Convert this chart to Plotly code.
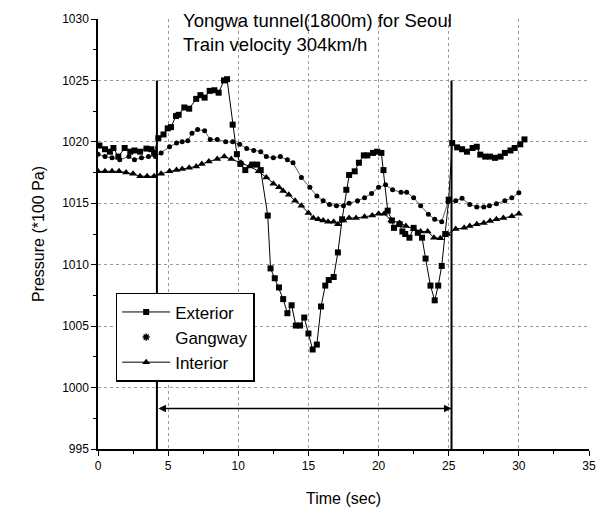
import plotly.graph_objects as go

# ---------------- data ----------------
ext_t = [0.1, 0.5, 0.85, 1.1, 1.45, 1.9, 2.3, 2.6, 3.0, 3.45, 3.8, 4.0, 4.3, 4.67, 4.97, 5.2, 5.56, 5.75,
         6.15, 6.5, 7.0, 7.3, 7.6, 7.96, 8.3, 8.6, 8.98, 9.2, 9.6, 9.9, 10.15, 10.5, 11.0, 11.35, 11.6,
         12.1, 12.3, 12.6, 12.9, 13.2, 13.5, 13.8, 14.1, 14.4, 14.7, 15.0, 15.3, 15.6, 15.9, 16.2, 16.45,
         16.8, 17.1, 17.4, 17.7, 17.9, 18.3, 18.6, 18.95, 19.2, 19.6, 19.9, 20.2, 20.35, 20.65, 20.95,
         21.1, 21.5, 21.7, 21.9, 22.2, 22.5, 22.8, 23.1, 23.35, 23.7, 24.0, 24.25, 24.5, 24.75, 25.0,
         25.25, 25.6, 25.95, 26.3, 26.7, 27.0, 27.25, 27.6, 27.95, 28.3, 28.7, 29.0, 29.4, 29.7, 30.1, 30.4]
ext_p = [1019.7, 1019.4, 1019.2, 1019.5, 1018.8, 1019.5, 1019.2, 1019.3, 1019.2, 1019.45, 1019.4, 1019.1,
         1020.3, 1020.6, 1021.1, 1021.2, 1022.1, 1022.2, 1022.8, 1022.7, 1023.5, 1023.8, 1023.6, 1024.15,
         1024.2, 1024.0, 1025.0, 1025.1, 1021.4, 1019.0, 1018.2, 1017.7, 1018.15, 1018.15, 1017.7,
         1014.0, 1009.7, 1008.9, 1008.15, 1007.2, 1006.05, 1006.7, 1005.05, 1005.05, 1005.7, 1004.4,
         1003.1, 1003.5, 1006.6, 1008.3, 1008.75, 1009.0, 1011.0, 1013.7, 1016.1, 1017.3, 1017.6, 1018.3,
         1018.9, 1018.9, 1019.1, 1019.2, 1019.1, 1017.7, 1014.4, 1013.6, 1013.0, 1013.3, 1012.7, 1012.5,
         1012.2, 1013.0, 1012.6, 1012.2, 1010.5, 1008.3, 1007.1, 1008.3, 1009.9, 1012.5, 1015.3,
         1019.9, 1019.55, 1019.4, 1019.2, 1019.5, 1019.6, 1018.96, 1018.8, 1018.8, 1018.7, 1018.8,
         1019.1, 1019.3, 1019.5, 1019.8, 1020.2]

gang_t = [0.0, 0.5, 1.0, 1.55, 2.2, 2.6, 3.1, 3.6, 4.1, 4.5, 5.1, 5.6, 6.0, 6.4, 6.7, 7.1, 7.6, 8.0, 8.5,
          9.1, 9.6, 10.1, 10.6, 11.1, 11.6, 12.0, 12.5, 13.0, 13.5, 13.9, 14.5, 15.1, 15.6, 16.05, 16.5,
          17.0, 17.5, 17.9, 18.5, 19.0, 19.5, 20.0, 20.5, 21.0, 21.6, 22.0, 22.5, 23.0, 23.55, 24.0, 24.5,
          24.95, 25.5, 25.95, 26.5, 27.0, 27.5, 27.9, 28.4, 29.0, 29.5, 30.0]
gang_p = [1019.0, 1018.8, 1018.7, 1018.55, 1018.8, 1018.55, 1018.7, 1018.8, 1018.8, 1019.1, 1019.6, 1019.9,
          1020.0, 1020.1, 1020.7, 1021.0, 1020.9, 1020.2, 1020.2, 1020.0, 1020.0, 1019.8, 1019.45, 1019.3,
          1019.2, 1018.8, 1018.7, 1018.8, 1018.55, 1018.3, 1017.1, 1016.3, 1015.6, 1015.2, 1014.9, 1014.8,
          1014.8, 1015.0, 1015.2, 1015.45, 1015.8, 1016.3, 1016.5, 1016.1, 1015.9, 1015.9, 1015.45, 1014.8,
          1014.1, 1013.7, 1013.5, 1015.1, 1015.2, 1015.4, 1014.9, 1014.7, 1014.7, 1014.8, 1014.96, 1015.2,
          1015.45, 1015.85]

int_t = [0.0, 0.5, 1.0, 1.5, 2.0, 2.5, 3.0, 3.5, 4.0, 4.5, 5.1, 5.6, 6.0, 6.5, 7.0, 7.4, 7.9, 8.5, 9.0, 9.5,
         10.2, 10.8, 11.45, 12.0, 12.5, 12.9, 13.2, 13.6, 14.05, 14.5, 15.0, 15.35, 15.7, 16.05, 16.4, 16.8,
         17.1, 17.5, 17.9, 18.4, 19.0, 19.55, 20.0, 20.4, 20.9, 21.5, 21.95, 22.5, 23.0, 23.5, 23.95, 24.4,
         24.9, 25.5, 26.1, 26.5, 27.0, 27.5, 27.95, 28.4, 28.9, 29.5, 30.0]
int_p = [1017.6, 1017.6, 1017.6, 1017.6, 1017.5, 1017.4, 1017.2, 1017.2, 1017.2, 1017.4, 1017.6, 1017.7,
         1017.8, 1017.9, 1018.0, 1018.2, 1018.4, 1018.6, 1018.8, 1018.6, 1018.3, 1018.0, 1017.6, 1017.1,
         1016.6, 1016.3, 1016.0, 1015.7, 1015.2, 1014.8, 1014.2, 1013.8, 1013.7, 1013.6, 1013.5, 1013.5,
         1013.3, 1013.6, 1013.8, 1013.8, 1013.9, 1014.0, 1014.15, 1014.15, 1013.6, 1013.4, 1013.15, 1012.9,
         1012.7, 1012.7, 1012.2, 1012.15, 1012.5, 1012.9, 1013.0, 1013.15, 1013.3, 1013.4, 1013.55, 1013.7,
         1013.8, 1013.95, 1014.15]

tunnel_entry = 4.2
tunnel_exit = 25.2
marker_line_top = 1025.0
arrow_level = 998.3

x_ticks = [0, 5, 10, 15, 20, 25, 30, 35]
y_ticks = [995, 1000, 1005, 1010, 1015, 1020, 1025, 1030]

title_lines = ["Yongwa tunnel(1800m) for Seoul", "Train velocity 304km/h"]

FONT = "Liberation Sans, Arial, sans-serif"

fig = go.Figure()
fig.add_trace(go.Scatter(x=ext_t, y=ext_p, name="Exterior", mode="lines+markers",
                         line=dict(color="black", width=1),
                         marker=dict(symbol="square", size=6, color="black")))
fig.add_trace(go.Scatter(x=gang_t, y=gang_p, name="Gangway", mode="lines+markers", showlegend=False,
                         line=dict(color="#333333", width=0.8),
                         marker=dict(symbol="circle", size=5, color="black")))
fig.add_trace(go.Scatter(x=[None], y=[None], name="Gangway", mode="markers",
                         marker=dict(symbol="asterisk", size=6, color="black",
                                     line=dict(color="black", width=1.5))))
fig.add_trace(go.Scatter(x=int_t, y=int_p, name="Interior", mode="lines+markers",
                         line=dict(color="black", width=1),
                         marker=dict(symbol="triangle-up", size=7, color="black")))

for xv in [tunnel_entry, tunnel_exit]:
    fig.add_shape(type="line", xref="x", yref="y", x0=xv, x1=xv, y0=y_ticks[0], y1=marker_line_top,
                  line=dict(color="black", width=2))

fig.add_annotation(x=tunnel_exit, y=arrow_level, ax=tunnel_entry, ay=arrow_level,
                   xref="x", yref="y", axref="x", ayref="y", text="", showarrow=True,
                   arrowhead=2, startarrowhead=2, arrowside="end+start", arrowsize=1,
                   arrowwidth=1.5, arrowcolor="black")

fig.add_annotation(x=5.9, y=1.025, xref="x", yref="paper", xanchor="left", yanchor="top",
                   text="<br>".join(title_lines), showarrow=False, align="left",
                   font=dict(family=FONT, size=18.5, color="black"))

axis_common = dict(showline=True, linecolor="black", linewidth=1.5, ticks="outside", ticklen=5,
                   tickcolor="black", tickwidth=1, showgrid=True, gridcolor="#9a9a9a", griddash="dot",
                   gridwidth=1, zeroline=False, mirror=False,
                   tickfont=dict(family=FONT, size=12, color="black"),
                   title_font=dict(family=FONT, size=16, color="black"))

fig.update_xaxes(range=[0, 35], tickvals=x_ticks, title_text="Time (sec)",
                 minor=dict(ticks="outside", ticklen=3, dtick=2.5, tickcolor="black"),
                 title_standoff=21, **axis_common)
fig.update_yaxes(range=[995, 1030], tickvals=y_ticks, title_text="Pressure (*100 Pa)",
                 minor=dict(ticks="outside", ticklen=3, dtick=2.5, tickcolor="black"),
                 title_standoff=14, **axis_common)

fig.update_layout(width=608, height=522, margin=dict(l=98, r=15, t=17, b=73),
                  paper_bgcolor="white", plot_bgcolor="white",
                  font=dict(family=FONT, size=12, color="black"),
                  legend=dict(x=0.036, y=0.363, xanchor="left", yanchor="top",
                              bordercolor="black", borderwidth=1.5, bgcolor="white",
                              font=dict(family=FONT, size=17, color="black"),
                              tracegroupgap=0, itemwidth=48))

fig.write_html("out.html")
